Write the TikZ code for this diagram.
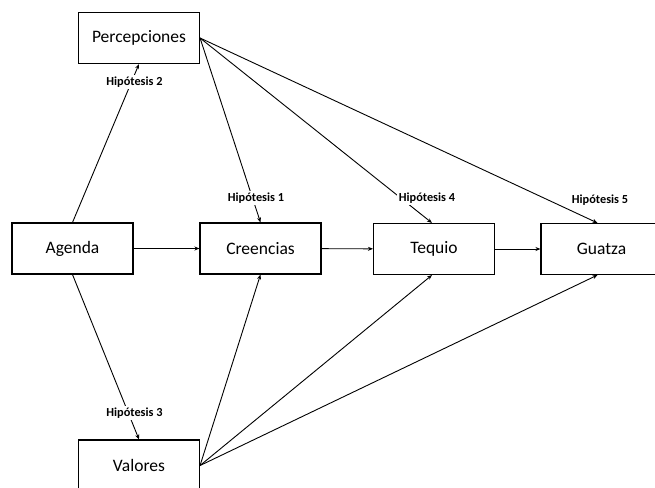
\documentclass[tikz,border=0pt]{standalone}
\usepackage{fontspec}
\setmainfont{Carlito}
\usetikzlibrary{arrows.meta,calc}
\tikzset{
  box/.style={draw=black, line width=1.1pt, minimum width=121pt, minimum height=51pt, inner sep=0pt, font=\fontsize{17.5}{20}\selectfont},
  conn/.style={line width=0.9pt, -{Stealth[length=5pt,width=4pt]}},
  hyp/.style={fill=white, inner sep=1.5pt, font=\bfseries\fontsize{12.3}{14}\selectfont}
}
\begin{document}
\begin{tikzpicture}[x=1pt,y=-1pt]
\useasboundingbox (0,0) rectangle (655,487);
\clip (0,0) rectangle (655,487);
\fill[white] (0,0) rectangle (655,487);
\node[box] (perc) at (139,38) {Percepciones};
\node[box] (agenda) at (72.5,248.5) {Agenda};
\node[box] (cre) at (260.5,248.5) {Creencias};
\node[box] (teq) at (434,249) {Tequio};
\node[box] (gua) at (601.5,249) {Guatza};
\node[box] (val) at (139,465.5) {Valores};
\coordinate (guaN) at ($(gua.north)+(-4,0)$);
\coordinate (guaS) at ($(gua.south)+(-4,0)$);
\coordinate (teqN) at ($(teq.north)+(-2,0)$);
\coordinate (teqS) at ($(teq.south)+(-2,0)$);
\draw[conn] (agenda) -- (cre);
\draw[conn] (cre) -- (teq);
\draw[conn] (teq) -- (gua);
\draw[conn] (agenda.north) -- (perc.south);
\draw[conn] (agenda.south) -- (val.north);
\draw[conn] (perc.east) -- (cre.north);
\draw[conn] (perc.east) -- (teqN);
\draw[conn] (perc.east) -- (guaN);
\draw[conn] (val.east) -- (cre.south);
\draw[conn] (val.east) -- (teqS);
\draw[conn] (val.east) -- (guaS);
\node[hyp] (h2) at (134.5,82) {Hipótesis 2};
\node[hyp] (h3) at (134.5,413) {Hipótesis 3};
\node[hyp] (h1) at (256,198) {Hipótesis 1};
\node[hyp] (h4) at (427,198) {Hipótesis 4};
\node[hyp] (h5) at (600,200) {Hipótesis 5};
\end{tikzpicture}
\end{document}
